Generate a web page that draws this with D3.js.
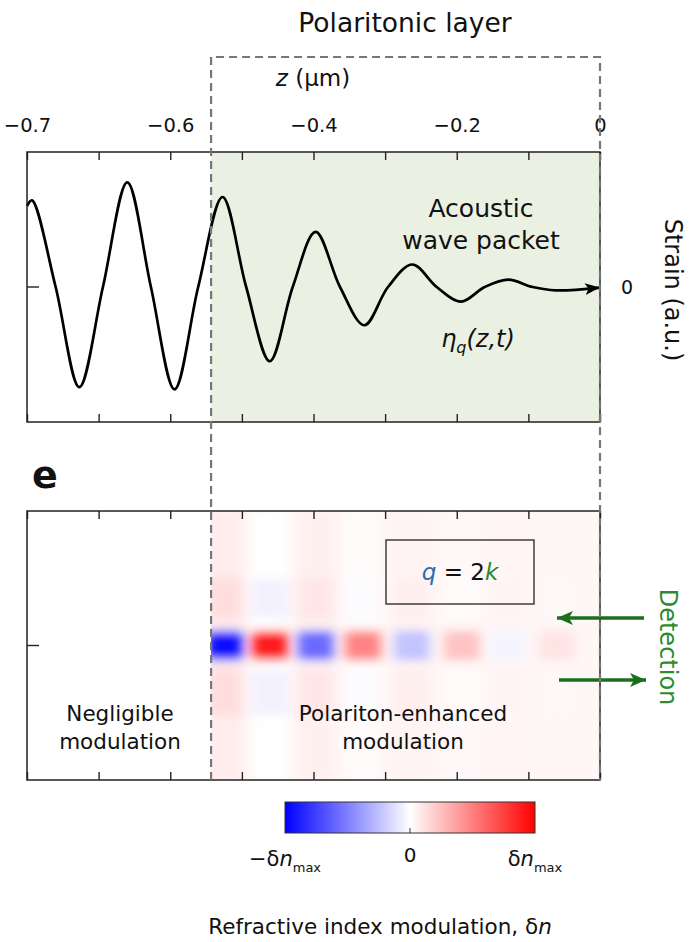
<!DOCTYPE html>
<html><head><meta charset="utf-8">
<script src="https://cdn.jsdelivr.net/npm/d3@7/dist/d3.min.js"></script>
<style>
body{margin:0;background:#fff;}
svg{display:block;}
text{font-family:"DejaVu Sans",sans-serif;fill:#111;}
</style>
</head><body>
<svg id="c" width="698" height="942"></svg>
<script>
// ---------- data ----------
const zTicks = [-0.8,-0.7,-0.6,-0.5,-0.4,-0.3,-0.2,-0.1,0];
const zLabelValues = [-0.8,-0.6,-0.4,-0.2,0];
const zLabels = ["\u22120.7","\u22120.6","\u22120.4","\u22120.2","0"];
const polaritonStartZ = -0.543;

// acoustic strain wave packet (z in µm, strain a.u.)
const waveZ = [-0.800,-0.793,-0.760,-0.727,-0.694,-0.660,-0.627,-0.594,-0.561,-0.527,-0.494,-0.461,-0.429,-0.397,-0.363,-0.329,-0.296,-0.262,-0.228,-0.194,-0.161,-0.128,-0.094,-0.062,0.000];
const waveStrain = [0.72,0.77,0.00,-0.89,0.00,0.93,0.00,-0.91,0.00,0.80,0.00,-0.66,0.00,0.49,0.00,-0.34,0.00,0.20,0.00,-0.13,0.00,0.065,0.00,-0.03,-0.005];

// refractive-index modulation blobs (centre z, δn / δn_max)
const blobZ  = [-0.524,-0.461,-0.397,-0.331,-0.263,-0.193,-0.130,-0.060];
const blobDn = [-1.00, 0.85,-0.62, 0.45,-0.27, 0.20,-0.08, 0.07];
// vertical bands (fraction of panel height from bottom) and their relative weight
const bandLow    = [0.00, 0.24, 0.60, 0.445];
const bandHigh   = [1.00, 0.41, 0.75, 0.555];
const bandWeight = [-0.04,-0.10,-0.10, 1.00];
const backgroundDn = 0.035;

// colour bar
const cbValues = [-1, 0, 1];

// ---------- layout ----------
const svg = d3.select("#c");
const X0 = 27, X1 = 600;
const TOP = [152, 422], BOT = [511, 780];
const x = d3.scaleLinear().domain([-0.8, 0]).range([X0, X1]);
const yS = d3.scaleLinear().domain([-1.2, 1.2]).range([TOP[1], TOP[0]]);
const v = d3.scaleLinear().domain([0, 1]).range([BOT[1], BOT[0]]);
const color = d3.scaleLinear().domain([-1,0,1]).range(["#0000ff","#ffffff","#ff0000"]).clamp(true);

const defs = svg.append("defs");
defs.append("filter").attr("id","blur").attr("x","-50%").attr("y","-50%").attr("width","200%").attr("height","200%")
  .append("feGaussianBlur").attr("stdDeviation","6 5");
defs.append("clipPath").attr("id","hmClip").append("rect")
  .attr("x", x(polaritonStartZ)).attr("y", BOT[0]).attr("width", X1 - x(polaritonStartZ)).attr("height", BOT[1]-BOT[0]);
defs.append("marker").attr("id","blackArrow").attr("markerUnits","userSpaceOnUse")
  .attr("markerWidth",16).attr("markerHeight",14).attr("refX",15).attr("refY",6).attr("orient","auto")
  .append("path").attr("d","M0,0 L15,6 L0,12 L3.5,6 Z").attr("fill","#000");
defs.append("marker").attr("id","greenArrow").attr("markerUnits","userSpaceOnUse")
  .attr("markerWidth",18).attr("markerHeight",16).attr("refX",16).attr("refY",7).attr("orient","auto")
  .append("path").attr("d","M0,0 L16,7 L0,14 L4,7 Z").attr("fill","#1c6e1c");
const grad = defs.append("linearGradient").attr("id","cbGrad");
grad.selectAll("stop").data(cbValues).join("stop")
  .attr("offset", d => ((d+1)/2*100)+"%").attr("stop-color", d => color(d));

// ---------- top panel ----------
svg.append("rect").attr("x", x(polaritonStartZ)).attr("y", TOP[0])
  .attr("width", X1 - x(polaritonStartZ)).attr("height", TOP[1]-TOP[0]).attr("fill","#eaf1e3");

const topAxis = d3.axisTop(x).tickValues(zTicks).tickSizeInner(-8).tickSizeOuter(0).tickPadding(20)
  .tickFormat(d => { const i = zLabelValues.findIndex(t => Math.abs(t-d)<1e-9); return i>=0 ? zLabels[i] : ""; });
const gTop = svg.append("g").attr("transform",`translate(0,${TOP[0]})`).call(topAxis);
gTop.select(".domain").remove();
gTop.selectAll("text").attr("font-size",19.5).attr("font-family","DejaVu Sans").attr("fill","#111");
gTop.selectAll("line").attr("stroke","#222").attr("stroke-width",1.4);

function innerTicks(yPos, dir) {
  const ax = (dir === "top" ? d3.axisTop(x) : d3.axisBottom(x)).tickValues(zTicks).tickSizeInner(-8).tickSizeOuter(0).tickFormat("");
  const g = svg.append("g").attr("transform",`translate(0,${yPos})`).call(ax);
  g.select(".domain").remove();
  g.selectAll("line").attr("stroke","#222").attr("stroke-width",1.4);
}
innerTicks(TOP[1], "bottom");

// zero tick on left
svg.append("line").attr("x1",X0).attr("x2",X0+12).attr("y1",yS(0)).attr("y2",yS(0)).attr("stroke","#222").attr("stroke-width",1.4);

// wave
const wavePts = waveZ.map((z,i)=>[z, waveStrain[i]]);
svg.append("path").datum(wavePts)
  .attr("d", d3.line().x(d=>x(d[0])).y(d=>yS(d[1])).curve(d3.curveCatmullRom.alpha(0.5)))
  .attr("fill","none").attr("stroke","#000").attr("stroke-width",2.7)
  .attr("marker-end","url(#blackArrow)");

svg.append("rect").attr("x",X0).attr("y",TOP[0]).attr("width",X1-X0).attr("height",TOP[1]-TOP[0])
  .attr("fill","none").attr("stroke","#222").attr("stroke-width",1.5);

// top texts
svg.append("text").attr("x",405).attr("y",32).attr("text-anchor","middle").attr("font-size",26.5).text("Polaritonic layer");
const zt = svg.append("text").attr("x",313).attr("y",86).attr("text-anchor","middle").attr("font-size",23);
zt.append("tspan").attr("font-style","italic").text("z");
zt.append("tspan").text(" (\u00b5m)");
svg.append("text").attr("x",481).attr("y",217).attr("text-anchor","middle").attr("font-size",25).text("Acoustic");
svg.append("text").attr("x",481).attr("y",249).attr("text-anchor","middle").attr("font-size",25).text("wave packet");
const eta = svg.append("text").attr("x",478).attr("y",347).attr("text-anchor","middle").attr("font-size",24).attr("font-style","italic");
eta.append("tspan").text("\u03b7");
eta.append("tspan").attr("font-size",16).attr("dy",6).text("q");
eta.append("tspan").attr("dy",-6).text("(z,t)");
svg.append("text").attr("x",627).attr("y",yS(0)).attr("dominant-baseline","central").attr("text-anchor","middle").attr("font-size",19).text("0");
svg.append("text").attr("transform",`translate(673,290) rotate(90)`).attr("text-anchor","middle").attr("dominant-baseline","central")
  .attr("font-size",24).text("Strain (a.u.)");

// ---------- bottom panel ----------
svg.append("text").attr("x",32).attr("y",488).attr("font-size",38).attr("font-weight","bold")
  .attr("font-family","Liberation Sans, Arial, sans-serif").text("e");

const hm = svg.append("g").attr("clip-path","url(#hmClip)");
hm.append("rect").attr("x",x(polaritonStartZ)).attr("y",BOT[0]).attr("width",X1-x(polaritonStartZ)).attr("height",BOT[1]-BOT[0])
  .attr("fill",color(backgroundDn));
const blurG = hm.append("g").attr("filter","url(#blur)");
const cells = [];
bandLow.forEach((lo,j)=>{ blobZ.forEach((z,i)=>{ cells.push({z, lo, hi:bandHigh[j], val: blobDn[i]*bandWeight[j]}); }); });
const halfW = 0.025;
blurG.selectAll("rect").data(cells).join("rect")
  .attr("x", d => x(d.z - halfW)).attr("width", d => x(d.z + halfW) - x(d.z - halfW))
  .attr("y", d => v(d.hi)).attr("height", d => v(d.lo) - v(d.hi))
  .attr("fill", d => color(d.val + backgroundDn));

innerTicks(BOT[0], "top");
innerTicks(BOT[1], "bottom");
svg.append("line").attr("x1",X0).attr("x2",X0+12).attr("y1",v(0.5)).attr("y2",v(0.5)).attr("stroke","#222").attr("stroke-width",1.4);
svg.append("rect").attr("x",X0).attr("y",BOT[0]).attr("width",X1-X0).attr("height",BOT[1]-BOT[0])
  .attr("fill","none").attr("stroke","#222").attr("stroke-width",1.5);

// q = 2k box
svg.append("rect").attr("x",386).attr("y",540).attr("width",148).attr("height",64)
  .attr("fill","none").attr("stroke","#222").attr("stroke-width",1.3);
const qt = svg.append("text").attr("x",460).attr("y",580).attr("text-anchor","middle").attr("font-size",23);
qt.append("tspan").attr("font-style","italic").attr("fill","#1f6fae").text("q");
qt.append("tspan").text(" = 2");
qt.append("tspan").attr("font-style","italic").attr("fill","#2a8a2a").text("k");

svg.append("text").attr("x",120).attr("y",721).attr("text-anchor","middle").attr("font-size",21.5).text("Negligible");
svg.append("text").attr("x",120).attr("y",749).attr("text-anchor","middle").attr("font-size",21.5).text("modulation");
svg.append("text").attr("x",403).attr("y",721).attr("text-anchor","middle").attr("font-size",21.5).text("Polariton-enhanced");
svg.append("text").attr("x",403).attr("y",749).attr("text-anchor","middle").attr("font-size",21.5).text("modulation");

// detection arrows
svg.append("line").attr("x1",644).attr("y1",618).attr("x2",557).attr("y2",618)
  .attr("stroke","#1c6e1c").attr("stroke-width",3.6).attr("marker-end","url(#greenArrow)");
svg.append("line").attr("x1",559).attr("y1",680).attr("x2",646).attr("y2",680)
  .attr("stroke","#1c6e1c").attr("stroke-width",3.6).attr("marker-end","url(#greenArrow)");
svg.append("text").attr("transform",`translate(668,647) rotate(90)`).attr("text-anchor","middle").attr("dominant-baseline","central")
  .attr("font-size",24).style("fill","#2e8b2e").text("Detection");

// dashed polaritonic layer outline
svg.append("path")
  .attr("d", `M${x(polaritonStartZ)},${BOT[1]} V57 H${X1} V${BOT[1]}`)
  .attr("fill","none").attr("stroke","#777").attr("stroke-width",2.2).attr("stroke-dasharray","8,5");

// ---------- colour bar ----------
const cb = d3.scaleLinear().domain([-1,1]).range([285,535]);
svg.append("rect").attr("x",cb(-1)).attr("y",802).attr("width",cb(1)-cb(-1)).attr("height",31)
  .attr("fill","url(#cbGrad)").attr("stroke","#333").attr("stroke-width",1);
svg.append("line").attr("x1",cb(0)).attr("x2",cb(0)).attr("y1",828).attr("y2",833).attr("stroke","#333").attr("stroke-width",1);
function dnLabel(val, neg) {
  const t = svg.append("text").attr("x",cb(val)).attr("y",866).attr("text-anchor","middle").attr("font-size",21);
  t.append("tspan").text((neg?"\u2212":"")+"\u03b4");
  t.append("tspan").attr("font-style","italic").text("n");
  t.append("tspan").attr("font-size",13).attr("dy",6).text("max");
}
dnLabel(cbValues[0], true);
dnLabel(cbValues[2], false);
svg.append("text").attr("x",cb(cbValues[1])).attr("y",862).attr("text-anchor","middle").attr("font-size",20).text("0");
const rt = svg.append("text").attr("x",380).attr("y",934).attr("text-anchor","middle").attr("font-size",21.5);
rt.append("tspan").text("Refractive index modulation, \u03b4");
rt.append("tspan").attr("font-style","italic").text("n");
</script>
</body></html>
